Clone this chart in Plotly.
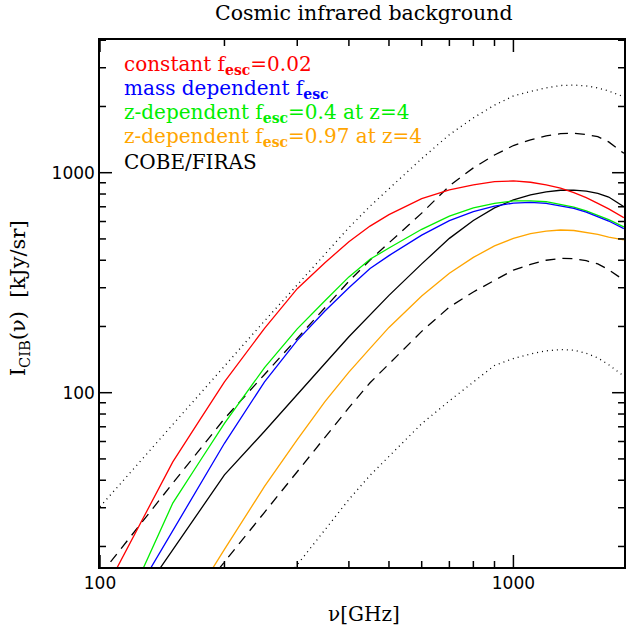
import plotly.graph_objects as go

# ---------------- data ----------------
nu = [100, 110, 125, 150, 175, 200, 250, 300, 350, 400, 450, 500, 600, 700,
      800, 900, 1000, 1100, 1200, 1300, 1400, 1500, 1600, 1700, 1850]

constant_fesc = [11.4, 16, 25, 48.5, 76, 112, 196, 297, 390, 485, 572, 645, 762, 835,
                 880, 910, 918, 905, 880, 850, 812, 770, 725, 685, 625]
mass_dep_fesc = [6.5, 8.8, 13.2, 23.7, 38.5, 58.9, 112, 173, 235, 300, 367, 420, 520, 605,
                 665, 705, 727, 733, 726, 708, 688, 662, 633, 603, 557]
z_dep_04 = [6, 8.6, 14.8, 31.5, 49.3, 72.6, 130, 195, 262, 336, 404, 455, 553, 635,
            692, 726, 744, 745, 738, 718, 697, 670, 640, 612, 567]
z_dep_097 = [2.4, 3.2, 4.7, 8.1, 12.9, 19.4, 37.5, 61.2, 91, 124, 159, 198, 275, 349,
             412, 465, 503, 528, 543, 549, 546, 537, 525, 510, 495]
cobe_firas = [6.4, 8.3, 11.7, 19.3, 29.3, 42.3, 66.8, 97.5, 135.7, 179.7, 227, 277, 385, 503,
              606, 692, 752, 792, 818, 832, 834, 824, 806, 775, 701]
cobe_upper_dash = [14.8, 18.6, 25.3, 38.8, 55.7, 76.2, 121, 177, 244, 321, 401, 480, 655, 871,
                   1052, 1203, 1329, 1410, 1470, 1505, 1512, 1490, 1458, 1380, 1225]
cobe_lower_dash = [3.4, 4.2, 5.7, 8.7, 12.4, 17.0, 28.6, 43.7, 62.7, 85.5, 111, 135, 190, 245,
                   287, 324, 361, 383, 400, 408, 407, 398, 385, 362, 325]
cobe_upper_dot = [30.3, 37.1, 48.8, 71.8, 99.8, 133, 212, 309, 426, 563, 704, 848, 1159, 1489,
                  1775, 2028, 2233, 2340, 2430, 2490, 2503, 2480, 2430, 2350, 2215]
cobe_lower_dot = [1.2, 1.5, 2.1, 3.2, 4.6, 6.3, 10.7, 16.5, 23.8, 32.7, 42.1, 51.3, 72.3, 91.8,
                  112, 133, 143, 150, 155, 157, 156, 151, 144, 134, 119]

x_major = [100, 1000]
x_major_labels = ["100", "1000"]
x_minor = [200, 300, 400, 500, 600, 700, 800, 900]
y_major = [100, 1000]
y_major_labels = ["100", "1000"]
y_minor = [20, 30, 40, 50, 60, 70, 80, 90, 200, 300, 400, 500, 600, 700, 800, 900,
           2000, 3000, 4000]

legend_texts = [
    "constant f<sub><b>esc</b></sub>=0.02",
    "mass dependent f<sub><b>esc</b></sub>",
    "z-dependent f<sub><b>esc</b></sub>=0.4 at z=4",
    "z-dependent f<sub><b>esc</b></sub>=0.97 at z=4",
    "COBE/FIRAS",
]
legend_colors = ["#ff0000", "#0000ff", "#00ee00", "#ffa500", "#000000"]

# ---------------- figure ----------------
W, H = 626, 631
L, R, T, B = 100, 0, 40, 64
PW, PH = W - L - R, H - T - B
XR = [2, 2 + PW / 415.0]
YR = [1.2077, 3.6032]
MAJOR_LEN, MINOR_LEN = 12, 6
X_DEX_PER_PX = (XR[1] - XR[0]) / PW
Y_DEX_PER_PX = (YR[1] - YR[0]) / PH


def paper(xpx, ypx):
    return (xpx - L) / PW, (H - B - ypx) / PH


fig = go.Figure()

series = [
    (cobe_upper_dot, "black", "1px,4px", 1.3),
    (cobe_lower_dot, "black", "1px,4px", 1.3),
    (cobe_upper_dash, "black", "10px,7px", 1.3),
    (cobe_lower_dash, "black", "10px,7px", 1.3),
    (cobe_firas, "black", "solid", 1.3),
    (z_dep_097, "#ffa500", "solid", 1.3),
    (z_dep_04, "#00ee00", "solid", 1.3),
    (mass_dep_fesc, "#0000ff", "solid", 1.3),
    (constant_fesc, "#ff0000", "solid", 1.3),
]
for ys, col, dash, w in series:
    fig.add_trace(go.Scatter(x=nu, y=ys, mode="lines",
                             line=dict(color=col, dash=dash, width=w),
                             showlegend=False, hoverinfo="skip"))

# inside tick marks on all four sides, one trace per tick, built from the axis ranges
y_lo, y_hi = 10 ** YR[0], 10 ** YR[1]
x_lo, x_hi = 10 ** XR[0], 10 ** XR[1]
tick_segments = []
for vals, ln in ((x_major, MAJOR_LEN), (x_minor, MINOR_LEN)):
    for v in vals:
        tick_segments.append(([v, v], [y_lo, 10 ** (YR[0] + ln * Y_DEX_PER_PX)]))
        tick_segments.append(([v, v], [y_hi, 10 ** (YR[1] - ln * Y_DEX_PER_PX)]))
for vals, ln in ((y_major, MAJOR_LEN), (y_minor, MINOR_LEN)):
    for v in vals:
        tick_segments.append(([x_lo, 10 ** (XR[0] + ln * X_DEX_PER_PX)], [v, v]))
        tick_segments.append(([x_hi, 10 ** (XR[1] - ln * X_DEX_PER_PX)], [v, v]))
for sx, sy in tick_segments:
    fig.add_trace(go.Scatter(x=sx, y=sy, mode="lines",
                             line=dict(color="black", width=1.5),
                             showlegend=False, hoverinfo="skip"))

serif = "DejaVu Serif"
sans = "DejaVu Sans"

annotations = []
rows = [64.5, 88.8, 113.0, 137.3, 161.7]
for txt, col, yr in zip(legend_texts, legend_colors, rows):
    px_, py_ = paper(122, yr)
    annotations.append(dict(text=txt, x=px_, y=py_, xref="paper", yref="paper",
                            xanchor="left", yanchor="middle", showarrow=False,
                            font=dict(family=serif, size=20, color=col)))

tx, ty = paper(365, 13)
annotations.append(dict(text="Cosmic infrared background", x=tx, y=ty, xref="paper",
                        yref="paper", xanchor="center", yanchor="middle", showarrow=False,
                        font=dict(family=serif, size=20.5, color="black")))
ax_, ay_ = paper(365, 614)
annotations.append(dict(text="ν[GHz]", x=ax_, y=ay_, xref="paper", yref="paper",
                        xanchor="center", yanchor="middle", showarrow=False,
                        font=dict(family=serif, size=20, color="black")))
yx_, yy_ = paper(19, 298)
annotations.append(dict(text="I<sub>CIB</sub>(ν)\u00a0\u00a0[kJy/sr]", x=yx_, y=yy_,
                        xref="paper", yref="paper", xanchor="center", yanchor="middle",
                        textangle=-90, showarrow=False,
                        font=dict(family=serif, size=21, color="black")))

axis_common = dict(
    type="log", showgrid=False, zeroline=False,
    showline=True, linecolor="black", linewidth=1.5, mirror=True,
    ticks="inside", ticklen=MAJOR_LEN, tickwidth=1.2, tickcolor="black",
    tickmode="array",
    tickfont=dict(family=sans, size=17, color="black"),
)

fig.update_layout(
    width=W, height=H,
    margin=dict(l=L, r=R, t=T, b=B, pad=0),
    paper_bgcolor="white", plot_bgcolor="white",
    annotations=annotations,
    showlegend=False,
    xaxis=dict(range=XR, tickvals=x_major, ticktext=x_major_labels, **axis_common),
    yaxis=dict(range=YR, tickvals=y_major, ticktext=y_major_labels, **axis_common),
)

fig.write_html("out.html")
